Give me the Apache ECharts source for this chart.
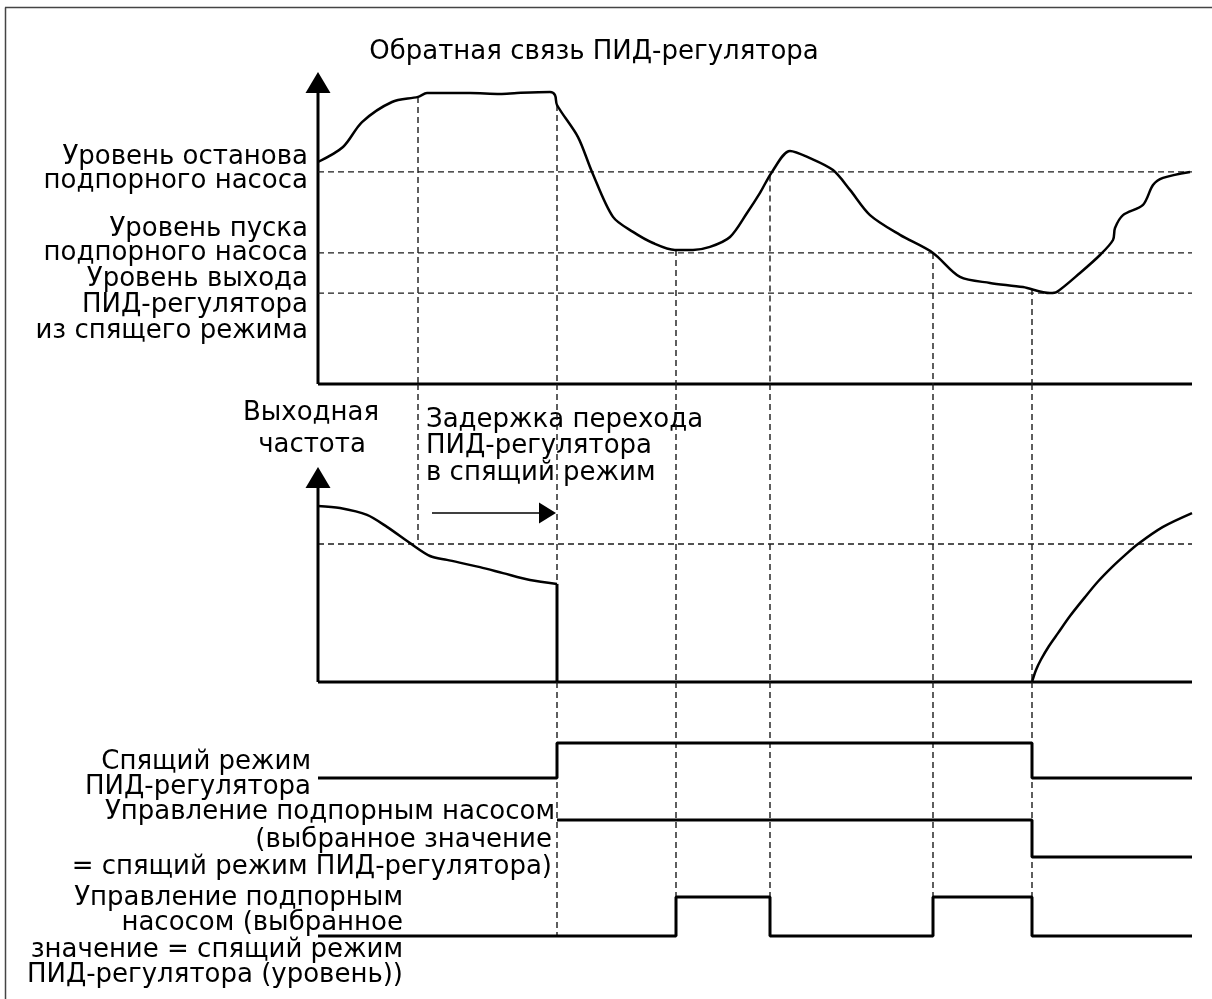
<!DOCTYPE html>
<html>
<head>
<meta charset="utf-8">
<script src="https://cdn.jsdelivr.net/npm/echarts@6/dist/echarts.min.js"></script>
<style>
html, body { margin: 0; padding: 0; background: #fff; }
#chart { width: 1212px; height: 999px; }
</style>
</head>
<body>
<div id="chart"></div>
<script>
// time in seconds (shared by all three panels)
var events = [10.0, 23.9, 35.8, 45.2, 61.5, 71.4];

// PID feedback
var fbTime  = [0, 2.5, 4.4, 7.4, 10, 10.9, 15.2, 18.2, 19.9, 23.2, 23.7, 23.9, 26, 27.4, 29.5, 31.5, 33.5, 35.7, 37.5, 39.2, 41.2, 42.9, 44.2, 45.4, 47.2, 49.2, 51.5, 53.2, 55.2, 58.2, 61.5, 64.2, 67.2, 70.5, 73.2, 73.9, 76.2, 78.2, 79.5, 79.7, 80.5, 82.5, 83.5, 84.5, 87.2];
var fbValue = [74, 79, 87.3, 94, 95.7, 97, 97, 96.7, 97, 97.3, 96.3, 93, 82.3, 70.7, 55.7, 50.7, 47, 44.7, 44.7, 45.7, 49, 57, 63.7, 70.7, 77.7, 75.3, 71.3, 64.7, 56.3, 49.7, 43.7, 35.7, 33.7, 32.3, 30.3, 30.7, 37, 43, 48, 52, 56.3, 59.7, 66.3, 68.7, 70.7];
var stopLevel = 70.7, startLevel = 43.7, wakeLevel = 30.3;

// output frequency
var freqTimeA  = [0, 2.2, 4.9, 6.9, 9.2, 11.2, 12.9, 16.2, 18.5, 21.2, 23.9];
var freqValueA = [58.7, 58, 55.7, 51.7, 46.3, 42, 40.7, 38.3, 36.3, 34, 32.7];
var freqTimeB  = [71.4, 71.8, 72.3, 73.1, 74.0, 75.2, 76.7, 78.0, 79.4, 80.7, 82.0, 84.5, 87.4];
var freqValueB = [0, 4, 7.5, 12, 16.3, 22, 28.3, 33.5, 38.3, 42.3, 46, 51.7, 56.3];
var freqLevel = 46;

// digital signals (0 = low, 1 = high)
var sleepTime = [0, 23.9, 71.4, 87.4];
var sleepState = [0, 1, 0, 0];
var boostSleepTime = [23.9, 71.4, 87.4];
var boostSleepState = [1, 0, 0];
var boostLevelTime = [0, 35.8, 45.2, 61.5, 71.4, 87.4];
var boostLevelState = [0, 1, 0, 1, 0, 0];

var tMin = 0, tMax = 87.4;
var FONT = '26px "DejaVu Sans"';

function zip(xs, ys) {
    return xs.map(function (x, i) { return [x, ys[i]]; });
}
function interp(xs, ys, x) {
    for (var i = 1; i < xs.length; i++) {
        if (x <= xs[i]) {
            var k = (x - xs[i - 1]) / (xs[i] - xs[i - 1]);
            return ys[i - 1] + k * (ys[i] - ys[i - 1]);
        }
    }
    return ys[ys.length - 1];
}
function signal(ts, states, low, high) {
    return ts.map(function (t, i) { return [t, low + states[i] * (high - low)]; });
}

var solid = { color: '#000', width: 3 };
var dash = { color: '#1a1a1a', width: 1.4, type: [6, 4] };

function line(g, data, style, extra) {
    var s = {
        type: 'line', xAxisIndex: g, yAxisIndex: g, data: data,
        symbol: 'none', showSymbol: true, clip: false, silent: true,
        lineStyle: style
    };
    for (var k in extra) s[k] = extra[k];
    return s;
}

var series = [];
var top1 = 104, top2 = 99.33, top3 = 105.67;

// panel 1: axes, levels, curve
series.push(line(0, [[0, 0], [tMax, 0]], solid));
series.push(line(0, [[0, 0], { value: [0, 100.5], symbol: 'triangle', symbolSize: [25, 21] }], solid, { itemStyle: { color: '#000' } }));
[stopLevel, startLevel, wakeLevel].forEach(function (lv) {
    series.push(line(0, [[0, lv], [tMax, lv]], dash));
});
events.forEach(function (t) {
    series.push(line(0, [[t, interp(fbTime, fbValue, t)], [t, 0]], dash));
});
series.push(line(0, zip(fbTime, fbValue), { color: '#000', width: 2.5 }, { smooth: 0.3 }));

// panel 2
series.push(line(1, [[0, freqLevel], [tMax, freqLevel]], dash));
events.forEach(function (t, i) {
    series.push(line(1, [[t, top2], [t, i === 0 ? freqLevel : 0]], dash));
});
series.push(line(1, [[0, 0], [tMax, 0]], solid));
series.push(line(1, [[0, 0], { value: [0, 68.17], symbol: 'triangle', symbolSize: [25, 21] }], solid, { itemStyle: { color: '#000' } }));
series.push(line(1, zip(freqTimeA, freqValueA), { color: '#000', width: 2.5 }, { smooth: 0.3 }));
series.push(line(1, [[23.9, freqValueA[freqValueA.length - 1]], [23.9, 0]], solid));
series.push(line(1, zip(freqTimeB, freqValueB), { color: '#000', width: 2.5 }, { smooth: 0.3 }));
series.push(line(1, [[11.4, 56.33], { value: [22.95, 56.33], symbol: 'triangle', symbolSize: [21, 17], symbolRotate: -90 }], { color: '#000', width: 1.5 }, { itemStyle: { color: '#000' } }));

// panel 3
events.slice(1).forEach(function (t, i) {
    var end = (i === 0) ? 21 : 34;
    series.push(line(2, [[t, top3], [t, end]], dash));
});
series.push(line(2, signal(sleepTime, sleepState, 73.67, 85.33), solid, { step: 'end' }));
series.push(line(2, signal(boostSleepTime, boostSleepState, 47.33, 59.67), solid, { step: 'end' }));
series.push(line(2, signal(boostLevelTime, boostLevelState, 21, 34), solid, { step: 'end' }));

var grids = [
    { left: 318, width: 874, top: 72, height: 312 },
    { left: 318, width: 874, top: 384, height: 298 },
    { left: 318, width: 874, top: 682, height: 317 }
];
var xAxes = [0, 1, 2].map(function (i) {
    return { type: 'value', gridIndex: i, min: tMin, max: tMax, show: false };
});
var yAxes = [top1, top2, top3].map(function (m, i) {
    return { type: 'value', gridIndex: i, min: 0, max: m, show: false };
});

var labels = [
    ['Обратная связь ПИД-регулятора', 594, 52, 'center'],
    ['Уровень останова', 308, 157, 'right'],
    ['подпорного насоса', 308, 181, 'right'],
    ['Уровень пуска', 308, 229, 'right'],
    ['подпорного насоса', 308, 253, 'right'],
    ['Уровень выхода', 308, 279, 'right'],
    ['ПИД-регулятора', 308, 305, 'right'],
    ['из спящего режима', 308, 331, 'right'],
    ['Выходная', 311, 413, 'center'],
    ['частота', 312, 445, 'center'],
    ['Задержка перехода', 426, 420, 'left'],
    ['ПИД-регулятора', 426, 446, 'left'],
    ['в спящий режим', 426, 473, 'left'],
    ['Спящий режим', 311, 762, 'right'],
    ['ПИД-регулятора', 311, 787, 'right'],
    ['Управление подпорным насосом', 555, 812, 'right'],
    ['(выбранное значение', 552, 840, 'right'],
    ['= спящий режим ПИД-регулятора)', 552, 867, 'right'],
    ['Управление подпорным', 403, 898, 'right'],
    ['насосом (выбранное', 403, 923, 'right'],
    ['значение = спящий режим', 403, 950, 'right'],
    ['ПИД-регулятора (уровень))', 403, 975, 'right']
];

var graphic = labels.map(function (l) {
    return {
        type: 'text', x: l[1], y: l[2], silent: true,
        style: { text: l[0], font: FONT, fill: '#000', align: l[3], verticalAlign: 'middle' }
    };
});
// frame (left and top edge)
graphic.push({ type: 'line', shape: { x1: 5.5, y1: 7.5, x2: 5.5, y2: 999 }, style: { stroke: '#444', lineWidth: 1.5 } });
graphic.push({ type: 'line', shape: { x1: 5, y1: 7.5, x2: 1212, y2: 7.5 }, style: { stroke: '#444', lineWidth: 1.5 } });

var chart = echarts.init(document.getElementById('chart'));
chart.setOption({
    animation: false,
    grid: grids,
    xAxis: xAxes,
    yAxis: yAxes,
    series: series,
    graphic: graphic
});
</script>
</body>
</html>
